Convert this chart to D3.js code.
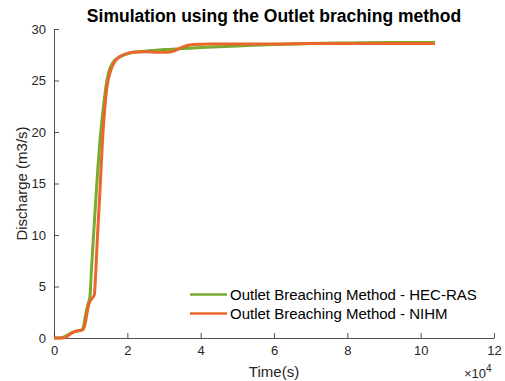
<!DOCTYPE html>
<html><head><meta charset="utf-8">
<script src="https://cdn.jsdelivr.net/npm/d3@7"></script>
<style>body{margin:0;background:#fff}svg{display:block;font-family:"Liberation Sans",Arial,sans-serif}</style>
</head><body><svg id="c" width="505" height="381"></svg>
<script>
// time in units of 1e4 s, discharge m3/s
const hecT = [0,0.2,0.3,0.4,0.5,0.6,0.7,0.78,0.83,0.88,0.93,0.98,1.02,1.07,1.15,1.25,1.35,1.42,1.5,1.6,1.7,1.85,2.0,2.16,2.5,3.0,3.5,4.0,5.0,6.0,7.0,8.0,9.0,10.39];
const hecQ = [0,0.03,0.15,0.35,0.55,0.65,0.72,0.85,1.6,2.6,3.3,4.0,6.5,9.5,14,19,22.5,24.5,25.9,26.7,27.1,27.4,27.6,27.75,27.85,28.0,28.1,28.2,28.35,28.5,28.6,28.65,28.7,28.7];
const nihT = [0,0.25,0.35,0.45,0.55,0.65,0.78,0.85,0.9,0.95,1.05,1.1,1.14,1.18,1.25,1.32,1.39,1.45,1.55,1.65,1.75,1.9,2.16,2.5,2.8,3.1,3.3,3.5,3.8,4.25,5.0,6.0,7.0,8.0,9.0,10.39];
const nihQ = [0,0,0.15,0.4,0.6,0.7,0.8,1.4,2.4,3.3,3.9,4.2,6.5,9.5,14,19,22.5,24.5,26.0,26.8,27.2,27.5,27.75,27.8,27.75,27.75,27.9,28.25,28.5,28.55,28.55,28.55,28.6,28.6,28.6,28.6];
const xTicks = [0,2,4,6,8,10,12];
const yTicks = [0,5,10,15,20,25,30];
const seriesNames = ["Outlet Breaching Method - HEC-RAS","Outlet Breaching Method - NIHM"];
const colors = ["#77AC30","#EA672B"];

const svg = d3.select("#c");
const L=54,R=494,T=29,B=338;
const x = d3.scaleLinear().domain([0,12]).range([L,R]);
const y = d3.scaleLinear().domain([0,30]).range([B,T]);
const axCol="#262626";

const xa = svg.append("g").attr("transform",`translate(0,${B})`)
  .call(d3.axisBottom(x).tickValues(xTicks).tickFormat(d3.format("d")).tickSizeInner(-5).tickSizeOuter(0).tickPadding(8));
const ya = svg.append("g").attr("transform",`translate(${L},0)`)
  .call(d3.axisLeft(y).tickValues(yTicks).tickFormat(d3.format("d")).tickSizeInner(-5).tickSizeOuter(0).tickPadding(8));
[xa,ya].forEach(a=>{a.selectAll("path,line").attr("stroke",axCol).attr("stroke-width",0.8);
  a.selectAll("text").attr("fill",axCol).attr("font-size",13).attr("font-family","Liberation Sans, Arial, sans-serif");});

const line = d3.line().curve(d3.curveMonotoneX);
const s1 = hecT.map((t,i)=>[x(t),y(hecQ[i])]);
const s2 = nihT.map((t,i)=>[x(t),y(nihQ[i])]);
svg.append("path").attr("d",line(s1)).attr("fill","none").attr("stroke",colors[0]).attr("stroke-width",3);
svg.append("path").attr("d",line(s2)).attr("fill","none").attr("stroke",colors[1]).attr("stroke-width",3);

svg.append("text").attr("x",274).attr("y",22).attr("text-anchor","middle").attr("font-weight","bold").attr("font-size",17.5).attr("fill","#000").text("Simulation using the Outlet braching method");
svg.append("text").attr("x",274).attr("y",377).attr("text-anchor","middle").attr("font-size",15).attr("fill",axCol).text("Time(s)");
svg.append("text").attr("transform",`translate(27,${(T+B)/2}) rotate(-90)`).attr("text-anchor","middle").attr("font-size",15).attr("fill",axCol).text("Discharge (m3/s)");
const ex = svg.append("text").attr("x",464).attr("y",378).attr("font-size",13).attr("fill",axCol);
ex.append("tspan").text("\u00d710");
ex.append("tspan").attr("dy",-6).attr("font-size",10).text("4");

const leg = svg.append("g");
[0,1].forEach(i=>{
  const yy = 294.5 + i*19;
  leg.append("line").attr("x1",190).attr("x2",227).attr("y1",yy).attr("y2",yy).attr("stroke",colors[i]).attr("stroke-width",2.5);
  leg.append("text").attr("x",230).attr("y",yy+5.5).attr("font-size",15).attr("fill","#000").text(seriesNames[i]);
});
</script></body></html>
